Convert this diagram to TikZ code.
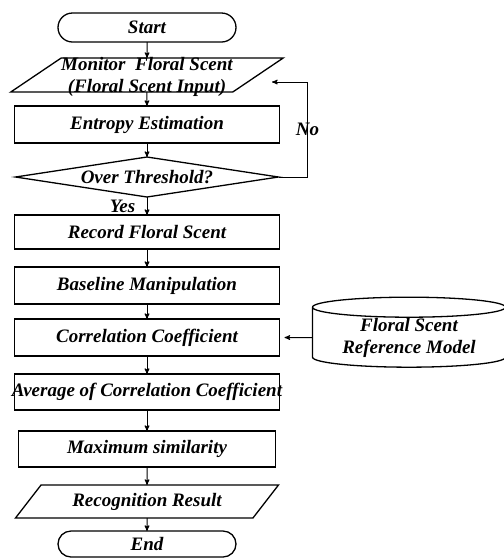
\documentclass[tikz,border=0pt]{standalone}
\usepackage{fontspec}
\setmainfont{Liberation Serif}
\usetikzlibrary{arrows,positioning,shapes.geometric,shapes.misc}

\begin{document}
\begin{tikzpicture}[x=1pt, y=-1pt, >=stealth',
    node distance = 16pt,
every node/.style = {font=\bfseries\itshape\fontsize{19}{22}\selectfont},
    base/.style = {draw, line width=1.3pt, inner sep=0pt, outer sep=0pt, align=center},
    term/.style = {base, rounded rectangle, minimum width=178pt, minimum height=29pt},
      io/.style = {base, trapezium, trapezium left angle=34, trapezium right angle=146,
                   trapezium stretches body, minimum height=34pt},
    proc/.style = {base, rectangle, minimum width=265pt, minimum height=37pt},
     dec/.style = {base, diamond, aspect=6.5, minimum width=263pt, minimum height=40pt},
      db/.style = {base, cylinder, shape border rotate=90, aspect=0.15,
                   minimum width=193pt, minimum height=70pt},
      ar/.style = {->, line width=1pt}
                    ]
\useasboundingbox (0,0) rectangle (504,558);
\node (start) [term] at (147,27.5)                      {Start};
\node (mon)   [io,minimum width=270pt,text height=34pt,text depth=0pt,
               below=16pt of start]
                                       {Monitor~~Floral Scent\\(Floral Scent Input)};
\node (ent)   [proc,below=14pt of mon]                  {Entropy Estimation};
\node (thr)   [dec,below=14pt of ent]                   {Over Threshold?};
\node (rec)   [proc,minimum height=34pt,below=18pt of thr] {Record Floral Scent};
\node (bas)   [proc,below=18pt of rec]                  {Baseline Manipulation};
\node (cor)   [proc,below=15pt of bas]                  {Correlation Coefficient};
\node (avg)   [proc,minimum height=36pt,below=18pt of cor]
                            {\makebox[265pt]{Average of Correlation Coefficient}};
\node (max)   [proc,minimum width=257pt,minimum height=36pt,below=21pt of avg]
                                                        {Maximum similarity};
\node (res)   [io,minimum width=263pt,minimum height=33pt,below=18pt of max]
                                                        {Recognition Result};
\node (end)   [term,minimum height=26pt,below=13pt of res] {End};
\node (ref)   [db,right=33pt of cor]                    {Floral Scent\\Reference Model};
\coordinate (back) at (272,82);
\path[ar]
    (start) edge (mon)
    (mon)   edge (ent)
    (ent)   edge (thr)
    (thr)   edge node[left=8pt] {Yes} (rec)
    (rec)   edge (bas)
    (bas)   edge (cor)
    (cor)   edge (avg)
    (avg)   edge (max)
    (max)   edge (res)
    (res)   edge (end)
    (ref)   edge [shorten >=5pt] (cor);
\draw[ar] (thr.east) -- ++(29,0) |- node[pos=0.25] {No} (back);
\end{tikzpicture}
\end{document}
